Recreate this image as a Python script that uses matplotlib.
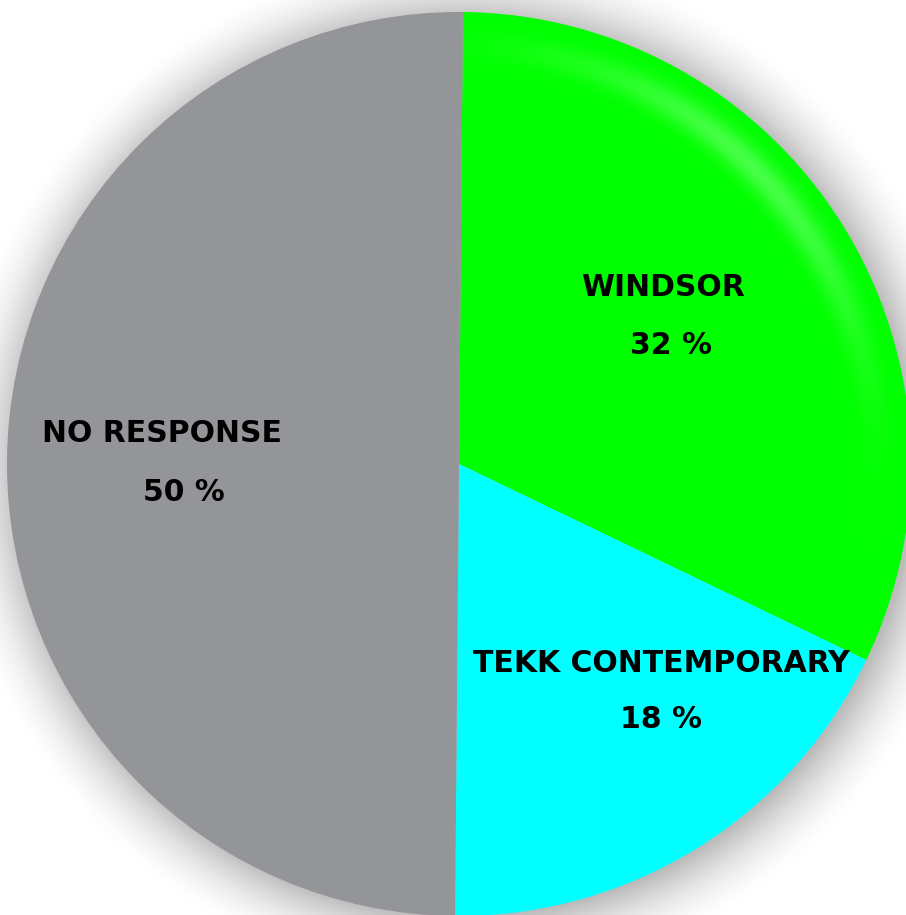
import numpy as np
import matplotlib
matplotlib.use("Agg")
import matplotlib.pyplot as plt

# ---- data ----
categories = ["WINDSOR", "TEKK CONTEMPORARY", "NO RESPONSE"]
values = [32, 18, 50]
colors = ["#00ff00", "#00ffff", "#939598"]

# ---- layout (pixels) ----
W, H = 906, 915
CX, CY, R = 459, 464, 452  # pie centre / radius in pixels (from top-left)

fig = plt.figure(figsize=(W / 100, H / 100), dpi=100)
fig.patch.set_facecolor("white")
ax = fig.add_axes([0, 0, 1, 1])

xs = np.linspace(-CX / R, (W - CX) / R, W)
ys = np.linspace(-(H - CY) / R, CY / R, H)
X, Y = np.meshgrid(xs, ys)
ext = [xs[0], xs[-1], ys[0], ys[-1]]

# soft drop shadow
ox, oy = 6 / R, -4 / R
d = np.sqrt((X - ox) ** 2 + (Y - oy) ** 2) - 1.0
blur = 72 / R
a = np.clip(1 - (d + 4 / R) / blur, 0, 1) ** 1.8 * 0.27
shadow = np.zeros((H, W, 4))
shadow[..., 3] = a
ax.imshow(shadow, extent=ext, origin="lower", zorder=0, interpolation="bilinear")

wedges, _ = ax.pie(values, colors=colors, startangle=89.5, counterclock=False,
                   radius=1.0, center=(0, 0), frame=True,
                   wedgeprops=dict(linewidth=0, antialiased=True))
for w in wedges:
    w.set_zorder(2)
ax.set_xlim(-CX / R, (W - CX) / R)
ax.set_ylim(-(H - CY) / R, CY / R)
ax.set_aspect("auto")
ax.axis("off")

# soft highlight band on the green slice (clipped to the slice)
rad = np.sqrt(X ** 2 + Y ** 2)
ang = np.degrees(np.arctan2(Y, X))
hl = 0.28 * np.exp(-((rad - 0.925) / 0.035) ** 2) * np.exp(-((ang - 45) / 30) ** 2)
hi = np.ones((H, W, 4))
hi[..., 3] = hl
im = ax.imshow(hi, extent=ext, origin="lower", zorder=3, interpolation="bilinear")
im.set_clip_path(wedges[0])

# labels (pixel positions of label / percent centres)
label_px = [(663, 287), (661, 664), (162, 433)]
pct_px = [(671, 345), (661, 719), (184, 492)]

def to_data(p):
    return (p[0] - CX) / R, (CY - p[1]) / R

font = dict(family="DejaVu Sans", weight="bold", fontsize=21.5, color="black")
for cat, v, lp, pp in zip(categories, values, label_px, pct_px):
    x, y = to_data(lp)
    ax.text(x, y, cat, ha="center", va="center", zorder=5, **font)
    x, y = to_data(pp)
    ax.text(x, y, f"{v} %", ha="center", va="center", zorder=5, **font)

fig.savefig("out.png", dpi=100, facecolor="white")
